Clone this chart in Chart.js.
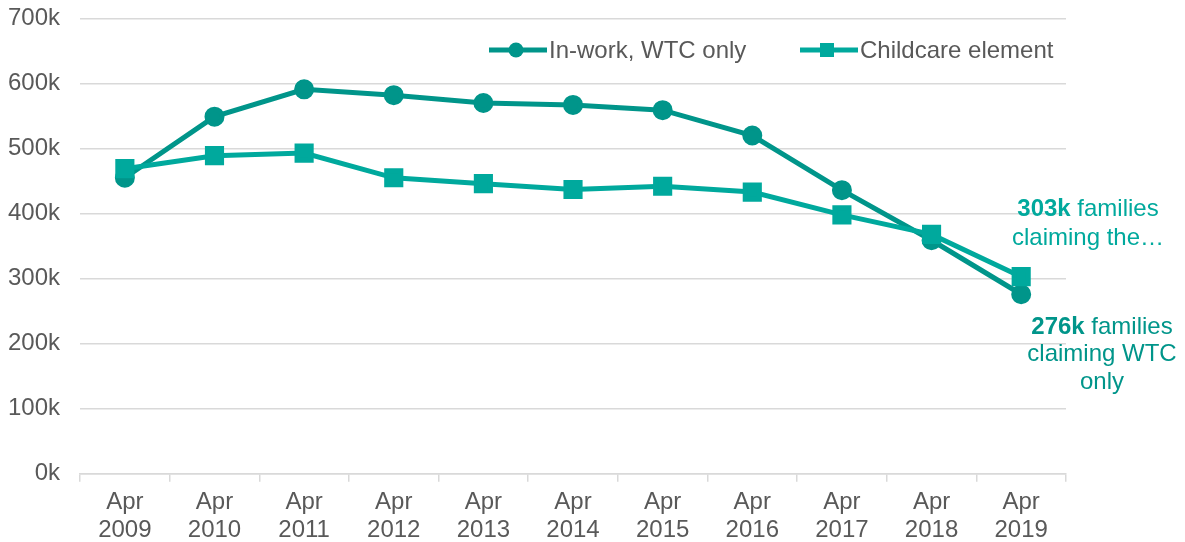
<!DOCTYPE html>
<html>
<head>
<meta charset="utf-8">
<script src="https://cdn.jsdelivr.net/npm/chart.js@4/dist/chart.umd.min.js"></script>
<style>
  html, body { margin: 0; padding: 0; background: #fff; overflow: hidden; width: 1185px; height: 542px; }
  #wrap { width: 1203px; height: 567px; margin-left: -18px; margin-top: -16px; }
</style>
</head>
<body>
<div id="wrap"><canvas id="myChart"></canvas></div>
<script>
const years = ['2009', '2010', '2011', '2012', '2013', '2014', '2015', '2016', '2017', '2018', '2019']
const labels = years.map(y => ['Apr', y])
const inWork = [455000, 549000, 591000, 582000, 570000, 567000, 559000, 520000, 436000, 359000, 276000]
const childcare = [469000, 489000, 493000, 455000, 446000, 437000, 442000, 433000, 398000, 368000, 303000]

const darkTeal = '#00958a'
const teal = '#00a99d'
const grey = '#595959'
const font = "'Liberation Sans', Arial, sans-serif"
// canvas is shifted by the wrapper margins, page coords -> canvas coords
const OX = 18
const OY = 16

// legend + end labels drawn by hand
const extras = {
    id: 'extras',
    afterDraw(chart) {
        const c = chart.ctx
        c.save()
        c.translate(OX, OY)
        c.font = '24px ' + font
        c.textBaseline = 'middle'

        // legend
        const items = [
            { x: 489, text: 'In-work, WTC only', color: darkTeal, shape: 'circle' },
            { x: 800, text: 'Childcare element', color: teal, shape: 'rect' }
        ]
        const ly = 50
        items.forEach(it => {
            c.strokeStyle = it.color
            c.fillStyle = it.color
            c.lineWidth = 5
            c.beginPath()
            c.moveTo(it.x, ly)
            c.lineTo(it.x + 58, ly)
            c.stroke()
            const cx = it.x + 27
            if (it.shape === 'circle') {
                c.beginPath()
                c.arc(cx, ly, 7.5, 0, Math.PI * 2)
                c.fill()
            } else {
                c.fillRect(cx - 7, ly - 7, 14, 14)
            }
            c.fillStyle = grey
            c.textAlign = 'left'
            c.font = '24px ' + font
            c.fillText(it.text, it.x + 60, ly + 1)
        })

        // annotation helper: bold first word then rest, centred
        function rich(bold, rest, cx, cy, color) {
            c.fillStyle = color
            c.font = 'bold 24px ' + font
            const wb = c.measureText(bold).width
            c.font = '24px ' + font
            const wr = c.measureText(rest).width
            const x0 = cx - (wb + wr) / 2
            c.textAlign = 'left'
            c.font = 'bold 24px ' + font
            c.fillText(bold, x0, cy)
            c.font = '24px ' + font
            c.fillText(rest, x0 + wb, cy)
        }
        function plain(t, cx, cy, color) {
            c.fillStyle = color
            c.font = '24px ' + font
            c.textAlign = 'center'
            c.fillText(t, cx, cy)
        }

        rich('303k', ' families', 1088, 209, teal)
        plain('claiming the\u2026', 1088, 238, teal)
        rich('276k', ' families', 1102, 327, darkTeal)
        plain('claiming WTC', 1102, 354, darkTeal)
        plain('only', 1102, 382, darkTeal)
        c.restore()
    }
}

const ctx = document.getElementById('myChart').getContext('2d')
const myChart = new Chart(ctx, {
    type: 'line',
    data: {
        labels: labels,
        datasets: [{
            label: 'In-work, WTC only',
            data: inWork,
            borderColor: darkTeal,
            backgroundColor: darkTeal,
            borderWidth: 5,
            pointStyle: 'circle',
            pointRadius: 7.5,
            pointHoverRadius: 7.5,
            order: 2
        }, {
            label: 'Childcare element',
            data: childcare,
            borderColor: teal,
            backgroundColor: teal,
            borderWidth: 5,
            pointStyle: 'rect',
            pointRadius: 10,
            pointHoverRadius: 10,
            order: 1
        }]
    },
    options: {
        responsive: true,
        maintainAspectRatio: false,
        animation: false,
        layout: { padding: { left: 6, right: 119, top: 0, bottom: 0 } },
        plugins: {
            legend: { display: false },
            tooltip: { enabled: false }
        },
        scales: {
            x: {
                offset: true,
                grid: {
                    offset: true,
                    drawOnChartArea: false,
                    drawTicks: true,
                    tickLength: 8,
                    color: '#d9d9d9',
                    lineWidth: 1.5
                },
                border: { color: '#d9d9d9', width: 1.5 },
                ticks: {
                    color: grey,
                    font: { family: font, size: 24, lineHeight: 1.15 },
                    padding: 7,
                    maxRotation: 0
                }
            },
            y: {
                min: 0,
                max: 700000,
                grid: {
                    color: '#d9d9d9',
                    lineWidth: 1.5,
                    drawTicks: false
                },
                border: { display: false },
                ticks: {
                    stepSize: 100000,
                    color: grey,
                    padding: 20,
                    font: { family: font, size: 24 },
                    callback: v => (v / 1000) + 'k'
                }
            }
        }
    },
    plugins: [extras]
})
</script>
</body>
</html>
